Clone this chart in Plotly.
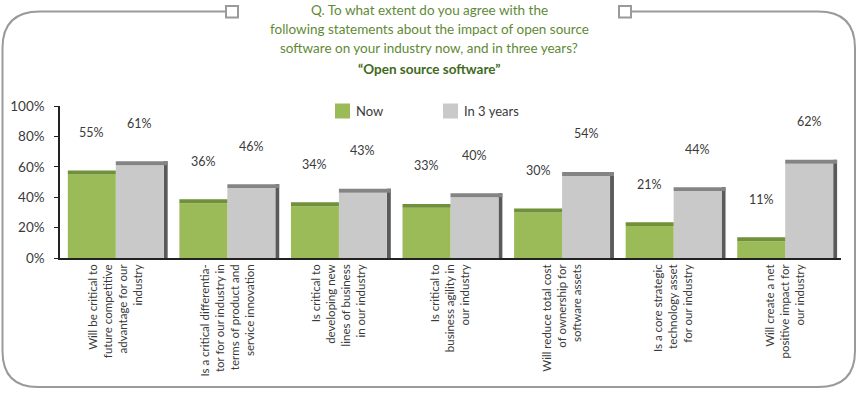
import plotly.graph_objects as go

categories = [
    "Will be critical to<br>future competitive<br>advantage for our<br>industry",
    "Is a critical differentia-<br>tor for our industry in<br>terms of product and<br>service innovation",
    "Is critical to<br>developing new<br>lines of business<br>in our industry",
    "Is critical to<br>business agility in<br>our industry",
    "Will reduce total cost<br>of ownership for<br>software assets",
    "Is a core strategic<br>technology asset<br>for our industry",
    "Will create a net<br>positive impact for<br>our industry",
]
now_values = [55, 36, 34, 33, 30, 21, 11]
three_year_values = [61, 46, 43, 40, 54, 44, 62]
series_names = ["Now", "In 3 years"]

W, H = 858, 394
L, R, T, B = 60, 17, 106, 136
PW, PH = W - L - R, H - T - B

GREEN, GREEN_TOP = "#9bbb59", "#71903a"
GREY, GREY_TOP, GREY_SIDE = "#c9c9c9", "#848484", "#5a5a5a"
CAP = 2.6  # depth of the 3D top face, in axis units
idx = list(range(len(categories)))

fig = go.Figure()
# grey side face
fig.add_trace(go.Bar(x=idx, y=[v + CAP for v in three_year_values], base=0,
                     offset=0.43, width=0.035, marker=dict(color=GREY_SIDE, line=dict(width=0)),
                     showlegend=False, hoverinfo="skip"))
# grey front
fig.add_trace(go.Bar(x=idx, y=three_year_values, name=series_names[1], showlegend=False,
                     offset=0.0, width=0.43, marker=dict(color=GREY, line=dict(width=0))))
# grey top
fig.add_trace(go.Bar(x=idx, y=[CAP] * len(idx), base=three_year_values,
                     offset=0.0, width=0.465, marker=dict(color=GREY_TOP, line=dict(width=0)),
                     showlegend=False, hoverinfo="skip"))
# green front
fig.add_trace(go.Bar(x=idx, y=now_values, name=series_names[0], showlegend=False,
                     offset=-0.43, width=0.43, marker=dict(color=GREEN, line=dict(width=0))))
# green top
fig.add_trace(go.Bar(x=idx, y=[CAP] * len(idx), base=now_values,
                     offset=-0.43, width=0.43, marker=dict(color=GREEN_TOP, line=dict(width=0)),
                     showlegend=False, hoverinfo="skip"))

LABEL_FONT = dict(family="Lato", size=12.5, color="#3a3a3a")
annotations = []
for i, (a, b) in enumerate(zip(now_values, three_year_values)):
    annotations.append(dict(x=i - 0.215, y=a, xref="x", yref="y", text=f"{a}%", showarrow=False,
                            yshift=42, yanchor="middle", font=LABEL_FONT))
    annotations.append(dict(x=i + 0.215, y=b, xref="x", yref="y", text=f"{b}%", showarrow=False,
                            yshift=42, yanchor="middle", font=LABEL_FONT))


def px(x):
    return (x - L) / PW


def py(y):
    return (H - B - y) / PH


title_lines = [
    ("Q. To what extent do you agree with the", 10, False),
    ("following statements about the impact of open source", 29, False),
    ("software on your industry now, and in three years?", 48, False),
    ("<b>“Open source software”</b>", 69, True),
]
for txt, y, bold in title_lines:
    annotations.append(dict(x=px(429), y=py(y), xref="paper", yref="paper", text=txt, showarrow=False,
                            xanchor="center", yanchor="middle",
                            font=dict(family="Lato", size=13.5, color="#3f6a1c" if bold else "#5f8a35")))


def P(x, y):
    return f"{px(x):.5f},{py(y):.5f}"


frame = ("M " + P(226, 11.5) + " L " + P(40, 11.5) + " Q " + P(2.5, 11.5) + " " + P(2.5, 48)
         + " L " + P(2.5, 351) + " Q " + P(2.5, 387) + " " + P(38, 387)
         + " L " + P(818, 387) + " Q " + P(855, 387) + " " + P(855, 351)
         + " L " + P(855, 48) + " Q " + P(855, 11.5) + " " + P(818, 11.5)
         + " L " + P(631, 11.5))
shapes = [
    dict(type="path", path=frame, xref="paper", yref="paper", line=dict(color="#9a9a9a", width=2), layer="below"),
    dict(type="rect", xref="paper", yref="paper", x0=px(226), x1=px(238), y0=py(6), y1=py(17.5),
         line=dict(color="#9a9a9a", width=2), fillcolor="white"),
    dict(type="rect", xref="paper", yref="paper", x0=px(619), x1=px(631), y0=py(6), y1=py(17.5),
         line=dict(color="#9a9a9a", width=2), fillcolor="white"),
]

# legend (drawn as swatches + text)
legend_items = [(series_names[0], GREEN, 335), (series_names[1], GREY, 443)]
for name, col, x0 in legend_items:
    shapes.append(dict(type="rect", xref="paper", yref="paper", x0=px(x0), x1=px(x0 + 15),
                       y0=py(118.5), y1=py(103.5), line=dict(width=0), fillcolor=col))
    annotations.append(dict(x=px(x0 + 19), y=py(111), xref="paper", yref="paper", text=name,
                            showarrow=False, xanchor="left", yanchor="middle",
                            font=dict(family="Lato", size=13, color="#3a3a3a")))

fig.update_layout(
    width=W, height=H,
    margin=dict(l=L, r=R, t=T, b=B),
    paper_bgcolor="white", plot_bgcolor="white",
    barmode="overlay",
    showlegend=False,
    font=dict(family="Lato", color="#3a3a3a"),
    annotations=annotations,
    shapes=shapes,
    xaxis=dict(tickmode="array", tickvals=idx, ticktext=categories, tickangle=-90,
               range=[-0.5, len(idx) - 0.5], showline=True, linecolor="#222222", linewidth=1.5,
               ticks="", showgrid=False, zeroline=False, automargin=False,
               tickfont=dict(family="Lato", size=11.5, color="#3a3a3a")),
    yaxis=dict(range=[0, 100], dtick=20, ticksuffix="%", showline=True, linecolor="#222222", linewidth=1.5,
               ticks="outside", ticklen=4, tickcolor="#222222", showgrid=False, zeroline=False,
               automargin=False, ticklabelstandoff=7,
               tickfont=dict(family="Lato", size=13.5, color="#3a3a3a")),
)

fig.write_html("out.html", config={"displayModeBar": False},
               post_script="document.body.style.margin='0';document.body.style.overflow='hidden';")
